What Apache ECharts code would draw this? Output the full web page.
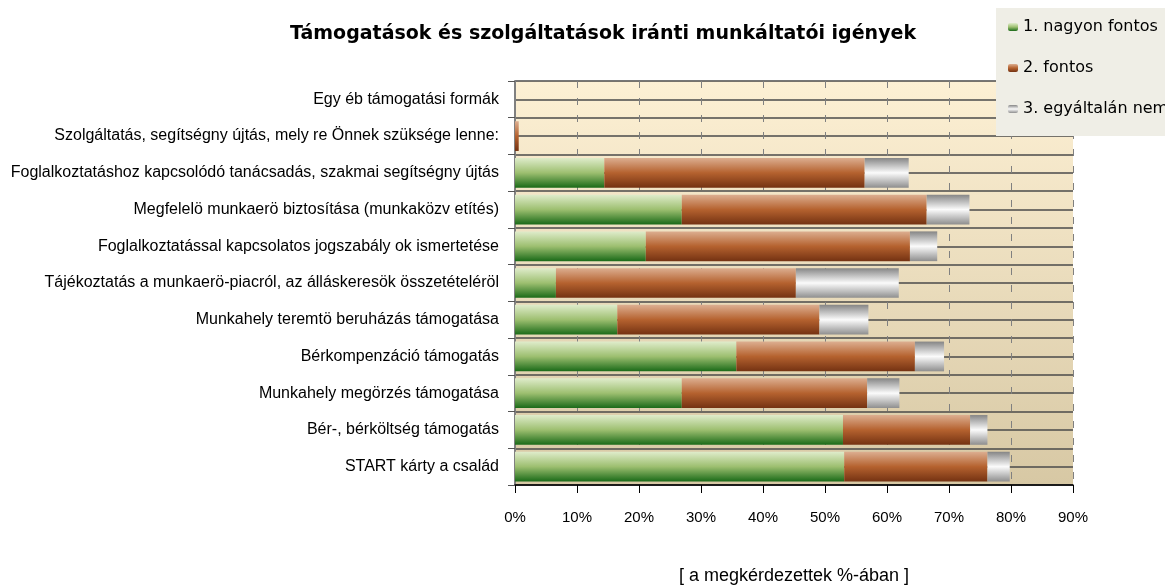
<!DOCTYPE html>
<html>
<head>
<meta charset="utf-8">
<script src="https://cdn.jsdelivr.net/npm/echarts@6/dist/echarts.min.js"></script>
<style>html,body{margin:0;padding:0;background:#fff;}#c{width:1165px;height:585px;}</style>
</head>
<body>
<div id="c"></div>
<script>
const categories = [
  "Egy éb támogatási formák",
  "Szolgáltatás, segítségny újtás, mely re Önnek szüksége lenne:",
  "Foglalkoztatáshoz kapcsolódó tanácsadás, szakmai segítségny újtás",
  "Megfelelö munkaerö biztosítása (munkaközv etítés)",
  "Foglalkoztatással kapcsolatos jogszabály ok ismertetése",
  "Tájékoztatás a munkaerö-piacról, az álláskeresök összetételéröl",
  "Munkahely teremtö beruházás támogatása",
  "Bérkompenzáció támogatás",
  "Munkahely megörzés támogatása",
  "Bér-, bérköltség támogatás",
  "START kárty a család"
];
const seriesNames = ["1. nagyon fontos", "2. fontos", "3. egyáltalán nem fontos"];
const nagyonFontos = [0, 0, 14.4, 26.9, 21.1, 6.6, 16.5, 35.7, 26.9, 52.9, 53.1];
const fontos =       [0, 0.6, 42.0, 39.5, 42.6, 38.7, 32.6, 28.8, 29.9, 20.5, 23.1];
const egyaltalanNem =[0, 0, 7.1, 6.9, 4.4, 16.6, 7.9, 4.7, 5.2, 2.8, 3.6];
const xTicks = [0, 10, 20, 30, 40, 50, 60, 70, 80, 90];

const LG = echarts.graphic.LinearGradient;
const greenG = new LG(0, 0, 0, 1, [
  {offset: 0, color: '#dfeccb'}, {offset: 0.5, color: '#9dbf70'}, {offset: 1, color: '#1a6a18'}]);
const brownG = new LG(0, 0, 0, 1, [
  {offset: 0, color: '#dcae90'}, {offset: 0.5, color: '#b5622f'}, {offset: 1, color: '#743212'}]);
const grayG = new LG(0, 0, 0, 1, [
  {offset: 0, color: '#858585'}, {offset: 0.5, color: '#fbfbfb'}, {offset: 1, color: '#8e8e8e'}]);
const bgG = new LG(0, 0, 0, 1, [
  {offset: 0, color: '#fdf0d4'}, {offset: 1, color: '#d7c8a4'}]);

const font = '"Liberation Sans", Arial, sans-serif';
const chart = echarts.init(document.getElementById('c'), null, {renderer: 'canvas'});
const vals = [nagyonFontos, fontos, egyaltalanNem];
const cols = [greenG, brownG, grayG];
chart.setOption({
  animation: false,
  title: {
    text: 'Támogatások és szolgáltatások iránti munkáltatói igények',
    left: 598, top: 20, textAlign: 'center',
    textStyle: {fontFamily: '"DejaVu Sans", sans-serif', fontWeight: 'bold', fontSize: 19, color: '#000'}
  },
  legend: {
    orient: 'vertical', left: 996, top: 8,
    padding: [11, 60, 19, 12],
    backgroundColor: '#efeee6',
    itemWidth: 10, itemHeight: 8, itemGap: 25,
    textStyle: {fontFamily: '"DejaVu Sans", sans-serif', fontSize: 16, color: '#000'},
    data: seriesNames
  },
  grid: {
    left: 515, right: 92, top: 81, bottom: 100,
    outerBoundsMode: 'none', containLabel: false,
    show: true, backgroundColor: bgG, borderWidth: 0
  },
  xAxis: {
    type: 'value', min: 0, max: 90, interval: 10,
    axisLine: {show: true, lineStyle: {color: '#000', width: 1.5}},
    axisTick: {show: true, length: 8, lineStyle: {color: '#000'}},
    axisLabel: {formatter: v => v + '%', fontFamily: font, fontSize: 15, color: '#000', margin: 25},
    splitLine: {show: true, lineStyle: {color: '#808080', type: [7, 10], width: 1}},
    name: '[ a megkérdezettek %-ában ]', nameLocation: 'middle', nameGap: 82,
    nameTextStyle: {fontFamily: font, fontSize: 18, color: '#000'}
  },
  yAxis: [{
    type: 'category', data: categories, inverse: true,
    axisLine: {show: true, lineStyle: {color: '#808080', width: 2}},
    axisTick: {show: true, length: 7, lineStyle: {color: '#555'}},
    axisLabel: {fontFamily: font, fontSize: 16, color: '#000', margin: 16},
    splitLine: {show: false}
  }, {
    type: 'value', min: 0, max: 11, interval: 0.5, position: 'right',
    axisLine: {show: false}, axisTick: {show: false}, axisLabel: {show: false},
    splitLine: {show: true, lineStyle: {color: '#4a4a4a', width: 1.5}}
  }],
  series: seriesNames.map((n, i) => ({
    name: n, type: 'bar', stack: 'total', yAxisIndex: 0,
    barCategoryGap: '19%',
    itemStyle: {color: cols[i]},
    data: vals[i]
  }))
});
</script>
</body>
</html>
